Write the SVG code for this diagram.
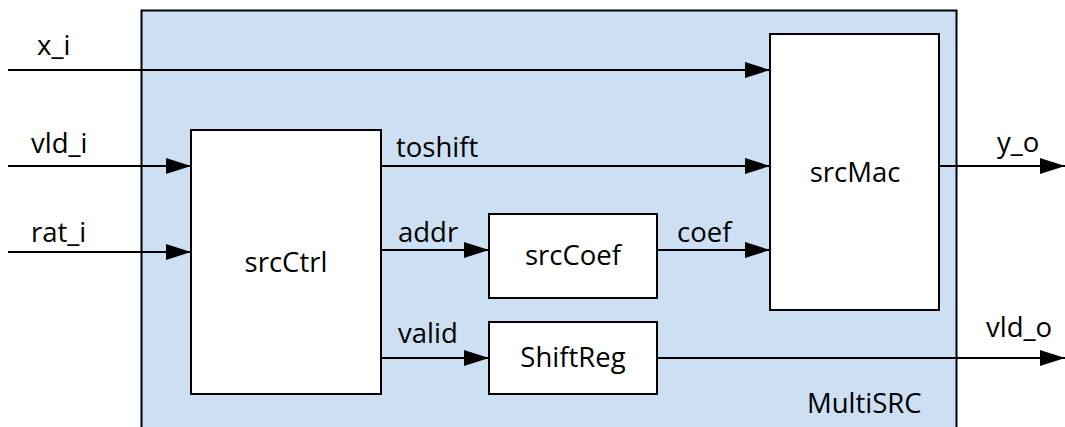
<svg xmlns="http://www.w3.org/2000/svg" width="1065" height="427" viewBox="0 0 1065 427">
  <style>
    .blk { fill: #ffffff; stroke: #000000; stroke-width: 2; }
    .wire { stroke: #000000; stroke-width: 2; fill: none; }
    text { font-family: "Open Sans", "Liberation Sans", sans-serif; font-size: 27.5px; fill: #000000; }
    .mid { text-anchor: middle; }
  </style>
  <defs>
    <marker id="arrow" markerWidth="25" markerHeight="16" refX="25" refY="8" orient="auto" markerUnits="userSpaceOnUse">
      <path d="M0,0 L25,8 L0,16 Z" fill="#000000"/>
    </marker>
  </defs>

  <!-- top-level module -->
  <g id="MultiSRC">
    <rect x="141.5" y="10.5" width="815" height="430" fill="#cddff2" stroke="#000000" stroke-width="2"/>
    <text x="807" y="413">MultiSRC</text>
  </g>

  <g id="srcCtrl">
    <rect class="blk" x="191" y="130" width="190" height="264"/>
    <text class="mid" x="286" y="272">srcCtrl</text>
  </g>

  <g id="srcCoef">
    <rect class="blk" x="489" y="214" width="168" height="84"/>
    <text class="mid" x="573" y="265">srcCoef</text>
  </g>

  <g id="ShiftReg">
    <rect class="blk" x="489" y="322" width="168" height="72"/>
    <text class="mid" x="573" y="367">ShiftReg</text>
  </g>

  <g id="srcMac">
    <rect class="blk" x="770" y="34" width="169" height="276"/>
    <text class="mid" x="855" y="182">srcMac</text>
  </g>

  <!-- signals -->
  <g id="connectors">
    <line class="wire" x1="8" y1="70" x2="770" y2="70" marker-end="url(#arrow)"/>
    <line class="wire" x1="8" y1="166" x2="191" y2="166" marker-end="url(#arrow)"/>
    <line class="wire" x1="8" y1="252" x2="191" y2="252" marker-end="url(#arrow)"/>
    <line class="wire" x1="381" y1="166" x2="770" y2="166" marker-end="url(#arrow)"/>
    <line class="wire" x1="381" y1="250" x2="489" y2="250" marker-end="url(#arrow)"/>
    <line class="wire" x1="381" y1="358" x2="489" y2="358" marker-end="url(#arrow)"/>
    <line class="wire" x1="657" y1="250" x2="770" y2="250" marker-end="url(#arrow)"/>
    <line class="wire" x1="939" y1="166" x2="1065" y2="166" marker-end="url(#arrow)"/>
    <line class="wire" x1="657" y1="358" x2="1065" y2="358" marker-end="url(#arrow)"/>

    <text x="37" y="55">x_i</text>
    <text x="31" y="153">vld_i</text>
    <text x="31" y="242">rat_i</text>
    <text x="396" y="157">toshift</text>
    <text x="398" y="242">addr</text>
    <text x="398" y="343">valid</text>
    <text x="677" y="242">coef</text>
    <text x="997" y="152">y_o</text>
    <text x="986" y="337">vld_o</text>
  </g>
</svg>
